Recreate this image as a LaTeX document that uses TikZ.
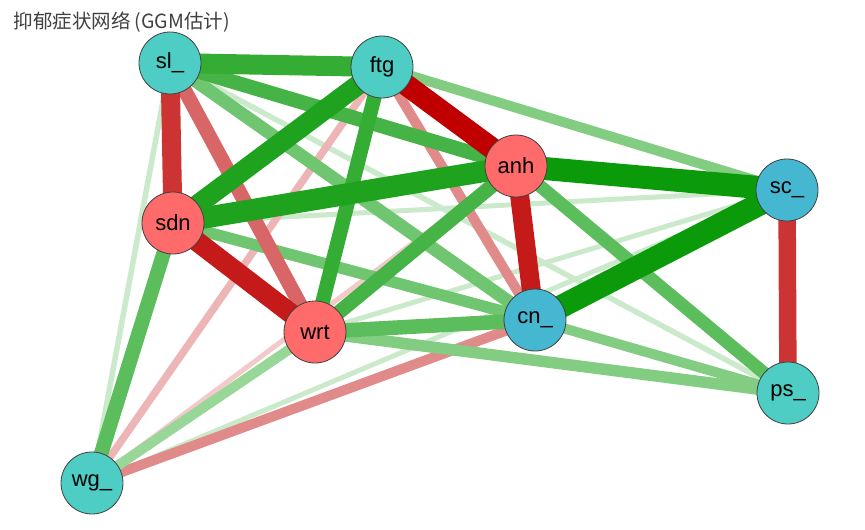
\documentclass[tikz,border=0pt]{standalone}
\usepackage{fontspec}
\setmainfont{Liberation Sans}
\newfontfamily\cjk{Noto Sans CJK SC}
\usetikzlibrary{positioning, backgrounds}
\definecolor{nodeTeal}{HTML}{4ECDC4}
\definecolor{nodeRed}{HTML}{FF6B6B}
\definecolor{nodeBlue}{HTML}{45B7D1}
\definecolor{gA}{HTML}{0A9A0A}
\definecolor{gB}{HTML}{1FA31F}
\definecolor{gC}{HTML}{35AD35}
\definecolor{gD}{HTML}{45B345}
\definecolor{gE}{HTML}{5CBD5C}
\definecolor{gF}{HTML}{70C570}
\definecolor{gG}{HTML}{82CD82}
\definecolor{gH}{HTML}{99D799}
\definecolor{gI}{HTML}{CBE9CB}
\definecolor{rA}{HTML}{C00000}
\definecolor{rB}{HTML}{C41A1A}
\definecolor{rC}{HTML}{CC3333}
\definecolor{rD}{HTML}{D86666}
\definecolor{rE}{HTML}{E08A8A}
\definecolor{rF}{HTML}{EDB5B5}
\definecolor{rG}{HTML}{F2CACA}
\tikzset{
    symnode/.style={
        circle,
        draw=black!75,
        line width=0.8pt,
        minimum size=62pt,
        inner sep=0pt,
        font=\fontsize{22}{22}\selectfont
    },
    edge/.style={
        line cap=butt
    }
}

\begin{document}
\begin{tikzpicture}[x=1pt, y=-1pt]
        \useasboundingbox (0,0) rectangle (865,530);
        \node[anchor=base west, text=black!75, font=\fontsize{19.5}{19.5}\selectfont\cjk] (title) at (10,28) {抑郁症状网络 (GGM估计)};

        \node[symnode, fill=nodeTeal] (sl) at (170,63) {sl\_};
        \node[symnode, fill=nodeTeal] (ftg) at (382,67) {ftg};
        \node[symnode, fill=nodeRed] (anh) at (516,166) {anh};
        \node[symnode, fill=nodeBlue] (sc) at (787,190) {sc\_};
        \node[symnode, fill=nodeRed] (sdn) at (173,223) {sdn};
        \node[symnode, fill=nodeRed] (wrt) at (315,332) {wrt};
        \node[symnode, fill=nodeBlue] (cn) at (535,320) {cn\_};
        \node[symnode, fill=nodeTeal] (ps) at (788,393) {ps\_};
        \node[symnode, fill=nodeTeal] (wg) at (92,483) {wg\_};

        \begin{scope}[on background layer]
        % weak edges first
        \draw[edge, line width=5.5pt, gI] (sl.center) -- (ps.center);
        \draw[edge, line width=5.5pt, gI] (sl.center) -- (wg.center);
        \draw[edge, line width=5pt, gI] (sdn.center) -- (sc.center);
        \draw[edge, line width=5pt, gI] (wrt.center) -- (sc.center);
        \draw[edge, line width=5pt, gI] (wg.center) -- (sc.center);
        \draw[edge, line width=5pt, rG] (wg.center) -- (anh.center);
        \draw[edge, line width=7.5pt, rF] (wg.center) -- (ftg.center);
        \draw[edge, line width=10pt, rE] (ftg.center) -- (cn.center);
        \draw[edge, line width=10pt, rE] (wg.center) -- (cn.center);
        \draw[edge, line width=10pt, gH] (wrt.center) -- (wg.center);
        \draw[edge, line width=10pt, gG] (ftg.center) -- (sc.center);
        \draw[edge, line width=10pt, gG] (cn.center) -- (ps.center);
        \draw[edge, line width=11.5pt, gG] (wrt.center) -- (ps.center);
        \draw[edge, line width=11.5pt, gF] (sdn.center) -- (cn.center);
        \draw[edge, line width=13pt, gF] (sl.center) -- (cn.center);
        \draw[edge, line width=13pt, gE] (anh.center) -- (ps.center);
        \draw[edge, line width=14.5pt, gE] (wrt.center) -- (cn.center);
        \draw[edge, line width=14.5pt, gE] (sdn.center) -- (wg.center);
        \draw[edge, line width=14.5pt, rD] (sl.center) -- (wrt.center);
        \draw[edge, line width=14.5pt, gD] (sl.center) -- (anh.center);
        \draw[edge, line width=14.5pt, gD] (anh.center) -- (wrt.center);
        \draw[edge, line width=14.5pt, gC] (ftg.center) -- (wrt.center);
        % strong edges
        \draw[edge, line width=17.5pt, rC] (sc.center) -- (ps.center);
        \draw[edge, line width=19pt, rC] (sl.center) -- (sdn.center);
        \draw[edge, line width=20pt, rB] (sdn.center) -- (wrt.center);
        \draw[edge, line width=19pt, rB] (anh.center) -- (cn.center);
        \draw[edge, line width=20pt, gC] (sl.center) -- (ftg.center);
        \draw[edge, line width=20pt, gB] (ftg.center) -- (sdn.center);
        \draw[edge, line width=21.5pt, gB] (sdn.center) -- (anh.center);
        \draw[edge, line width=21.5pt, rA] (ftg.center) -- (anh.center);
        \draw[edge, line width=23pt, gA] (anh.center) -- (sc.center);
        \draw[edge, line width=23pt, gA] (sc.center) -- (cn.center);
        \end{scope}
    \end{tikzpicture}
\end{document}
